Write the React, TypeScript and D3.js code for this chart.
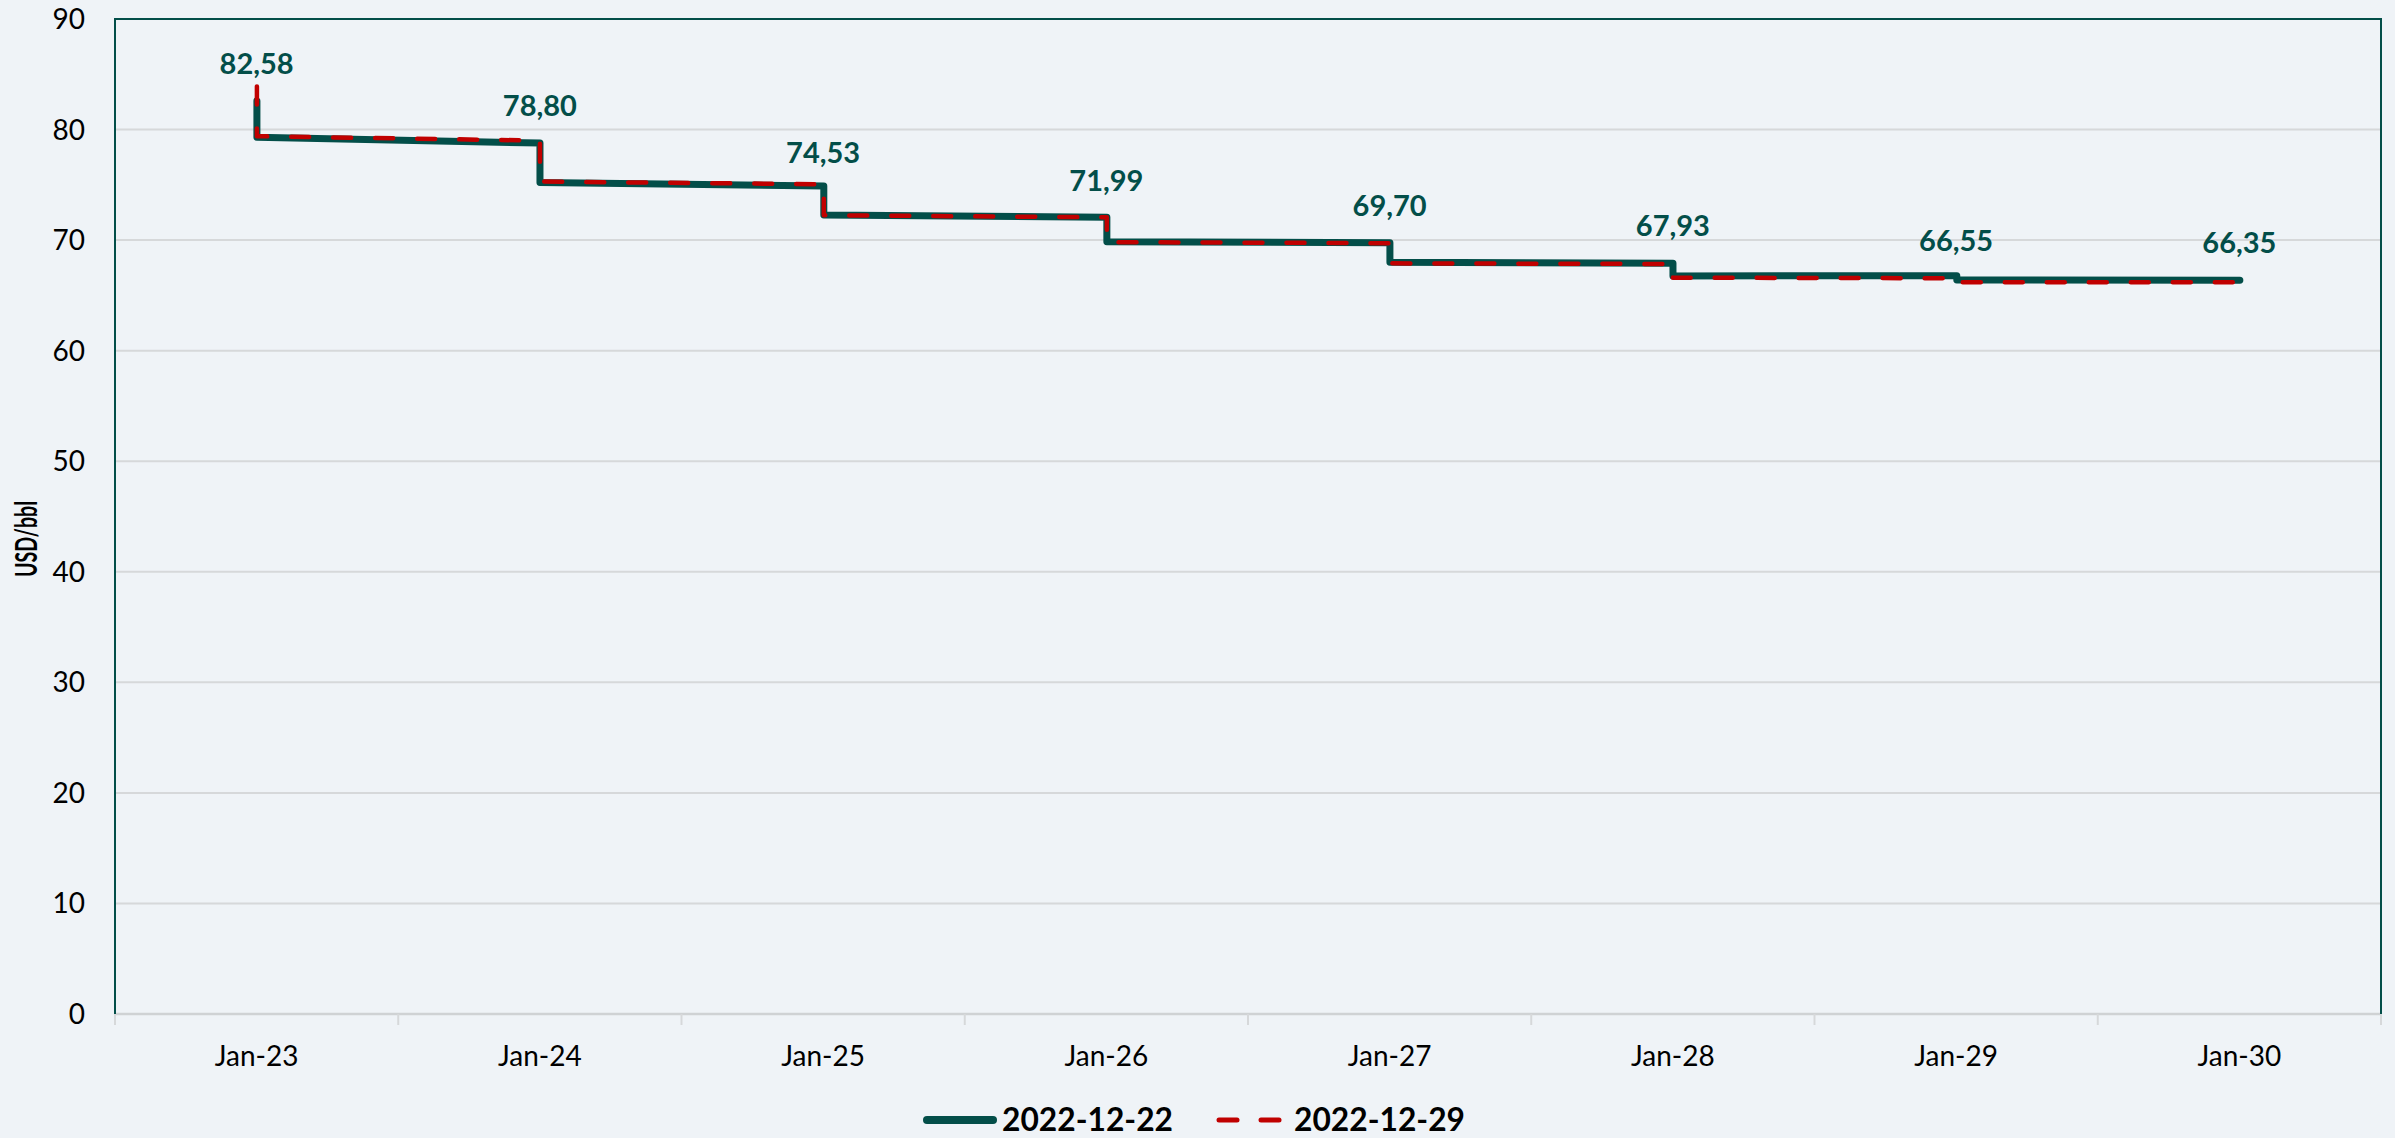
import React from 'react';
import * as d3 from 'd3';

// x categories (one label per year, centred in each band)
const categories = ['Jan-23', 'Jan-24', 'Jan-25', 'Jan-26', 'Jan-27', 'Jan-28', 'Jan-29', 'Jan-30'];
const yTicks = [0, 10, 20, 30, 40, 50, 60, 70, 80, 90];

// years of the strip, each one step of the curve
const stepYears = [2023, 2024, 2025, 2026, 2027, 2028, 2029];

// 2022-12-22 curve
const spot1222 = 82.58;
const yearStart1222 = [79.3, 75.22, 72.27, 69.86, 67.99, 66.76, 66.4];
const yearEnd1222 = [78.78, 74.9, 72.06, 69.77, 67.9, 66.78, 66.38];

// 2022-12-29 curve
const spot1229 = 83.9;
const yearStart1229 = [79.4, 75.3, 72.25, 69.82, 67.9, 66.6, 66.2];
const yearEnd1229 = [79.0, 75.05, 72.06, 69.72, 67.84, 66.55, 66.18];

// data labels shown above each January
const labelValues = [82.58, 78.8, 74.53, 71.99, 69.7, 67.93, 66.55, 66.35];

const legendNames = ['2022-12-22', '2022-12-29'];

const W = 2395;
const H = 1138;
const left = 115, right = 2381, top = 19, bottom = 1014;

const teal = '#034e49';
const red = '#c00000';
const font = 'Lato, "Open Sans", sans-serif';

type Pt = { date: Date; v: number };

const buildSeries = (spot: number, starts: number[], ends: number[]): Pt[] => {
  const pts: Pt[] = [{ date: new Date(stepYears[0], 0, 1), v: spot }];
  stepYears.forEach((yr, i) => {
    pts.push({ date: new Date(yr, 0, 1), v: starts[i] });
    pts.push({ date: new Date(yr + 1, 0, 1), v: ends[i] });
  });
  return pts;
};

export default function App() {
  const xBand = d3.scaleBand<string>().domain(categories).range([left, right]).padding(0);
  const xTime = d3.scaleTime()
    .domain([new Date(2022, 6, 2), new Date(2030, 6, 2)])
    .range([left, right]);
  const y = d3.scaleLinear().domain([0, 90]).range([bottom, top]);

  const line = d3.line<Pt>().x(d => xTime(d.date)).y(d => y(d.v));
  const s1222 = buildSeries(spot1222, yearStart1222, yearEnd1222);
  const s1229 = buildSeries(spot1229, yearStart1229, yearEnd1229);

  const bw = xBand.bandwidth();
  const tickXs = categories.map(c => xBand(c) as number).concat([right]);

  return (
    <svg width={W} height={H} style={{ position: 'absolute', left: 0, top: 0, background: '#eff3f7' }}>
      <rect x={0} y={0} width={W} height={H} fill="#eff3f7" />

      {/* gridlines */}
      {yTicks.filter(t => t > 0 && t < 90).map(t => (
        <line key={t} x1={left} x2={right} y1={y(t)} y2={y(t)} stroke="#d6d8da" strokeWidth={2} />
      ))}

      {/* x axis */}
      <line x1={left} x2={right} y1={bottom} y2={bottom} stroke="#cfd2d4" strokeWidth={2.5} />
      {tickXs.map((x, i) => (
        <line key={i} x1={x} x2={x} y1={bottom} y2={bottom + 11} stroke="#d6d8da" strokeWidth={2} />
      ))}
      {categories.map(c => (
        <text key={c} x={(xBand(c) as number) + bw / 2} y={1066} textAnchor="middle"
          fontFamily={font} fontSize={28} fill="#000">{c}</text>
      ))}

      {/* plot border: left, top, right */}
      <path d={`M${left},${bottom}V${top}H${right}V${bottom}`} fill="none" stroke={teal} strokeWidth={2} />

      {/* y axis labels */}
      {yTicks.map(t => (
        <text key={t} x={85} y={y(t) + 10} textAnchor="end" fontFamily={font} fontSize={28} fill="#000">{t}</text>
      ))}
      <text transform="translate(37,539) rotate(-90)" textAnchor="middle" fontFamily={font}
        fontSize={30} fontWeight="bold" fill="#000" textLength={76} lengthAdjust="spacingAndGlyphs">USD/bbl</text>

      {/* curves */}
      <path d={line(s1222) || ''} fill="none" stroke={teal} strokeWidth={7} strokeLinejoin="round" strokeLinecap="round" />
      <path d={line(s1229) || ''} fill="none" stroke={red} strokeWidth={4.5} strokeLinejoin="round"
        strokeLinecap="round" strokeDasharray="18 24" />

      {/* data labels */}
      {labelValues.map((v, i) => (
        <text key={i} x={(xBand(categories[i]) as number) + bw / 2} y={y(v) - 27} textAnchor="middle"
          fontFamily={font} fontSize={29} fontWeight="bold" fill={teal}>
          {v.toFixed(2).replace('.', ',')}
        </text>
      ))}

      {/* legend */}
      <line x1={927} x2={993} y1={1120} y2={1120} stroke={teal} strokeWidth={8} strokeLinecap="round" />
      <text x={1002} y={1131} fontFamily={font} fontSize={33} fontWeight="bold" fill="#000"
        textLength={171} lengthAdjust="spacingAndGlyphs">{legendNames[0]}</text>
      <line x1={1219} x2={1237} y1={1120} y2={1120} stroke={red} strokeWidth={5} strokeLinecap="round" />
      <line x1={1261} x2={1279} y1={1120} y2={1120} stroke={red} strokeWidth={5} strokeLinecap="round" />
      <text x={1294} y={1131} fontFamily={font} fontSize={33} fontWeight="bold" fill="#000"
        textLength={171} lengthAdjust="spacingAndGlyphs">{legendNames[1]}</text>
    </svg>
  );
}
